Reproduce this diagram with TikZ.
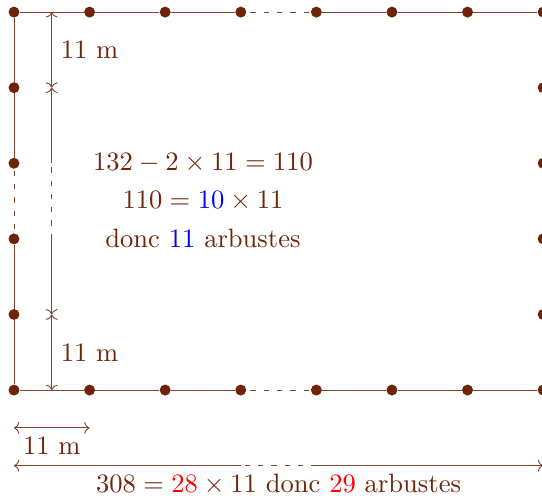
\documentclass[tikz,border=0pt]{standalone}
\usepackage{amsmath,amssymb}
\usepackage{tikz}
\usepackage{xcolor}
\usetikzlibrary{arrows.meta,positioning}
\definecolor{brun}{HTML}{6E2409}

\begin{document}
\begin{tikzpicture}[>={Computer Modern Rightarrow[length=4pt,width=9pt]},
  pt/.style={circle,fill=brun,inner sep=0pt,minimum size=0.29cm},
  bord/.style={brun!85,line width=0.7pt},
  pointill/.style={bord,dash pattern=on 4pt off 6pt,dash phase=-3pt},
  lbl/.style={brun,scale=2}]
  \useasboundingbox (-0.37,-2.86) rectangle (13.97,10.32);

  % haies
  \foreach \i in {0,...,7} {
    \node[pt] (b\i) at (2*\i,0) {};
    \node[pt] (t\i) at (2*\i,10) {};
  }
  \foreach \j in {1,...,4} {
    \node[pt] (l\j) at (0,2*\j) {};
    \node[pt] (r\j) at (14,2*\j) {};
  }
  \draw[bord] (b0) -- (b1) -- (b2) -- (b3) (b4) -- (b5) -- (b6) -- (b7)
              (t0) -- (t1) -- (t2) -- (t3) (t4) -- (t5) -- (t6) -- (t7);
  \draw[bord] (b0) -- (l1) -- (l2) (l3) -- (l4) -- (t0)
              (b7) -- (r1) -- (r2) (r3) -- (r4) -- (t7);
  \draw[pointill] (b3) -- (b4) (t3) -- (t4) (l2) -- (l3) (r2) -- (r3);

  % cote verticale
  \coordinate (d0) at (1,0);  \coordinate (d2) at (1,2);
  \coordinate (d4) at (1,4);  \coordinate (d6) at (1,6);
  \coordinate (d8) at (1,8);  \coordinate (d10) at (1,10);
  \draw[bord,<->] (d10) -- (d8);
  \draw[bord,<-] (d8) -- (d6);
  \draw[pointill] (d6) -- (d4);
  \draw[bord,->] (d4) -- (d2);
  \draw[bord,<->] (d2) -- (d0);
  \node[lbl] (h1) at (2,9) {11 m};
  \node[lbl] (h2) at (2,1) {11 m};

  \node[lbl] (e1) at (5,6) {$132-2\times11=110$};
  \node[lbl] (e2) at (5,5) {$110=\textcolor{blue}{10}\times11$};
  \node[lbl] (e3) at (5,4) {donc \textcolor{blue}{11} arbustes};

  % cotes du bas
  \coordinate (a0) at (0,-1);  \coordinate (a2) at (2,-1);
  \draw[bord,<->] (a0) -- (a2);
  \node[lbl] (u) at (1,-1.47) {11 m};
  \coordinate (c0) at (0,-2);  \coordinate (c6) at (6,-2);
  \coordinate (c8) at (8,-2);  \coordinate (c14) at (14,-2);
  \draw[bord,<-] (c0) -- (c6);
  \draw[pointill] (c6) -- (c8);
  \draw[bord,->] (c8) -- (c14);
  \node[lbl] (tot) at (7,-2.5)
    {$308=\textcolor{red}{28}\times11$ donc \textcolor{red}{29} arbustes};
\end{tikzpicture}
\end{document}
